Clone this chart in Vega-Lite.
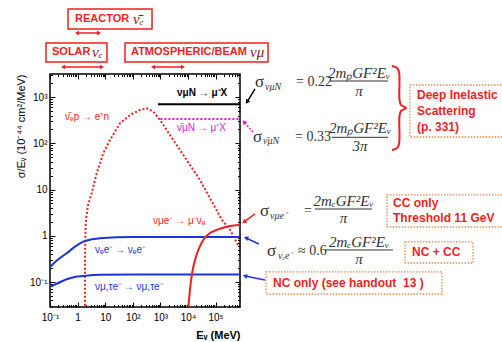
{
"$schema": "https://vega.github.io/schema/vega-lite/v6.json",
"width": 190, "height": 233,
"autosize": {"type": "none"},
"padding": {"left": 50, "top": 74, "right": 262, "bottom": 35},
"background": "white",
"config": {"view": {"stroke": "black", "strokeWidth": 1.5}, "font": "Liberation Sans"},
"datasets": {
 "nuebarp": [{"E":1.84,"s":0.025},{"E":1.85,"s":0.3},{"E":1.93,"s":1.34},{"E":2.01,"s":2.2},{"E":2.38,"s":4.63},{"E":3.24,"s":8.3},{"E":4.92,"s":22.5},{"E":8.53,"s":61},{"E":14.9,"s":118},{"E":34.4,"s":271},{"E":79.3,"s":410},{"E":182,"s":526},{"E":319,"s":573},{"E":553,"s":484},{"E":968,"s":320},{"E":2930,"s":118},{"E":8970,"s":43.7},{"E":27200,"s":16.1},{"E":68100,"s":5.94},{"E":170600,"s":2.2},{"E":333000,"s":1.34},{"E":649000,"s":0.632}],
 "numuN": [{"E":820,"s":700},{"E":765000,"s":700}],
 "numubarN": [{"E":1000,"s":335},{"E":765000,"s":335}],
 "nuee": [{"E":0.1,"s":0.211},{"E":0.2,"s":0.31},{"E":0.403,"s":0.419},{"E":0.805,"s":0.583},{"E":1.61,"s":0.745},{"E":3.24,"s":0.84},{"E":6.49,"s":0.883},{"E":26.1,"s":0.929},{"E":100,"s":0.942},{"E":765000,"s":0.942}],
 "numutau": [{"E":0.1,"s":0.08},{"E":0.2,"s":0.0953},{"E":0.403,"s":0.115},{"E":0.805,"s":0.129},{"E":1.61,"s":0.135},{"E":6.49,"s":0.144},{"E":100,"s":0.146},{"E":765000,"s":0.146}],
 "numue": [{"E":10260,"s":0.027},{"E":11140,"s":0.0482},{"E":12530,"s":0.094},{"E":14790,"s":0.182},{"E":17950,"s":0.299},{"E":23600,"s":0.493},{"E":35800,"s":0.811},{"E":54500,"s":1.077},{"E":109600,"s":1.337},{"E":252000,"s":1.574},{"E":765000,"s":1.714}],
 "lab_black": [{"E":3990,"s":1228,"t":"νμN → μ⁻X"}],
 "lab_red": [{"E":0.349,"s":371,"t":"ν̄ₑp → e⁺n"},{"E":540,"s":2.09,"t":"νμe⁻ → μ⁻νₑ"}],
 "lab_mag": [{"E":3990,"s":215,"t":"ν̄μN → μ⁺X"}],
 "lab_blue": [{"E":4.27,"s":0.493,"t":"νₑe⁻ → νₑe⁻"},{"E":4.27,"s":0.0782,"t":"νμ,τe⁻ → νμ,τe⁻"}],
 "topbox": [{"E":0.449,"E2":497,"s":80500,"s2":29700},{"E":0.0716,"E2":11.6,"s":14800,"s2":5760},{"E":52.1,"E2":7930000,"s":14800,"s2":5760}],
 "toptext": [{"E":0.805,"s":48950,"t":"REACTOR"},{"E":0.118,"s":9230,"t":"SOLAR"},{"E":86.1,"s":9230,"t":"ATMOSPHERIC/BEAM"}],
 "topnu": [{"E":102,"s":48950,"t":"ν̄ₑ"},{"E":3.33,"s":9230,"t":"νₑ"},{"E":1760000,"s":9230,"t":"νμ"}],
 "toparrow": [{"E":0.951,"E2":5.96,"s":24400},{"E":0.296,"E2":7.66,"s":4480},{"E":540,"E2":6590,"s":4480}],
 "rbox": [{"E":1.1e12,"E2":1.07e16,"s":1830,"s2":137},{"E":1.62e11,"E2":1.07e16,"s":7.64,"s2":1.55},{"E":7.28e11,"E2":2.12e14,"s":0.735,"s2":0.258},{"E":6.7e6,"E2":1.6e13,"s":0.165,"s2":0.0551}],
 "rtext": [{"E":1.98e12,"s":1111,"t":"Deep Inelastic"},{"E":1.98e12,"s":501,"t":"Scattering"},{"E":1.98e12,"s":226,"t":"(p. 331)"},{"E":2.68e11,"s":5.13,"t":"CC only"},{"E":2.68e11,"s":2.43,"t":"Threshold 11 GeV"},{"E":1.31e12,"s":0.435,"t":"NC + CC"},{"E":1.2e7,"s":0.0953,"t":"NC only (see handout\u00a0 13 )"}],
 "sig": [{"E":2.68e6,"s":2120,"t":"σ"},{"E":2.26e6,"s":140,"t":"σ"},{"E":4.06e6,"s":3.44,"t":"σ"},{"E":7.28e6,"s":0.469,"t":"σ"}],
 "sub": [{"E":6.17e6,"s":1656,"t":"νμN"},{"E":5.21e6,"s":112,"t":"ν̄μN"},{"E":9.36e6,"s":2.68,"t":"νμe⁻"},{"E":1.82e7,"s":0.366,"t":"νₑe⁻"}],
 "rel": [{"E":8.18e7,"s":2120,"t":"= 0.22"},{"E":7.53e7,"s":140,"t":"= 0.33"},{"E":1.6e8,"s":3.44,"t":"="},{"E":9.68e7,"s":0.469,"t":"≈ 0.6"}],
 "num": [{"E":1.57e10,"s":3400,"t":"2mₚGF²Eᵥ"},{"E":1.71e10,"s":215,"t":"2mₚGF²Eᵥ"},{"E":4.31e9,"s":5.66,"t":"2mₑGF²Eᵥ"},{"E":1.57e10,"s":0.735,"t":"2mₑGF²Eᵥ"}],
 "den": [{"E":1.57e10,"s":1355,"t":"π"},{"E":1.71e10,"s":87.7,"t":"3π"},{"E":4.31e9,"s":2.43,"t":"π"},{"E":1.57e10,"s":0.315,"t":"π"}],
 "fbar": [{"E":1.4e9,"E2":1.76e11,"s":2230},{"E":1.65e9,"E2":1.76e11,"s":135},{"E":3.99e8,"E2":4.64e10,"s":3.8},{"E":9.2e8,"E2":2.68e11,"s":0.493}],
 "brace": [{"i":0,"E":2.46e11,"s":4710},{"i":1,"E":3.73e11,"s":4270},{"i":2,"E":4.42e11,"s":3490},{"i":3,"E":4.6e11,"s":867},{"i":4,"E":5.21e11,"s":675},{"i":5,"E":7.92e11,"s":582},{"i":6,"E":5.21e11,"s":501},{"i":7,"E":4.6e11,"s":391},{"i":8,"E":4.42e11,"s":96.8},{"i":9,"E":3.73e11,"s":79.3},{"i":10,"E":2.46e11,"s":71.8}],
 "arr_black": [{"E":2.68e6,"s":1500,"E2":1.37e6,"s2":783}],
 "arr_mag": [{"E":2.26e6,"s":176,"E2":1.07e6,"s2":290}],
 "arr_red": [{"E":2.68e6,"s":2.97,"E2":1.07e6,"s2":1.99}],
 "arr_blue": [{"E":3.73e6,"s":0.665,"E2":1.26e6,"s2":0.897},{"E":6.17e6,"s":0.111,"E2":1.16e6,"s2":0.135}]
},
"layer": [
 {"layer": [
  {"data": {"name": "nuebarp"}, "mark": {"type": "line", "color": "#f01e1e", "strokeDash": [2,2], "strokeWidth": 2, "clip": true},
   "encoding": {
    "x": {"field": "E", "type": "quantitative", "scale": {"type": "log", "domain": [0.1, 765000], "nice": false},
     "axis": {"values": [0.1,0.2,0.3,0.4,0.5,0.6,0.7,0.8,0.9,1,2,3,4,5,6,7,8,9,10,20,30,40,50,60,70,80,90,100,200,300,400,500,600,700,800,900,1000,2000,3000,4000,5000,6000,7000,8000,9000,10000,20000,30000,40000,50000,60000,70000,80000,90000,100000,200000,300000,400000,500000,600000,700000],
      "labelExpr": "datum.value==0.1?'10⁻¹':datum.value==1?'1':datum.value==10?'10':datum.value==100?'10²':datum.value==1000?'10³':datum.value==10000?'10⁴':datum.value==100000?'10⁵':''",
      "tickSize": {"condition": {"test": "indexof([0.1,1,10,100,1000,10000,100000],datum.value)>=0", "value": -5}, "value": -2.5},
      "tickColor": "black", "domain": false, "grid": false, "labelFontSize": 10, "labelColor": "black", "labelPadding": 10, "labelOverlap": false, "labelFlush": false,
      "title": "Eᵥ (MeV)", "titleFontSize": 11, "titleFontWeight": "bold", "titleColor": "black", "titleX": 190, "titleY": 22, "titleAlign": "right", "titleBaseline": "top"}},
    "y": {"field": "s", "type": "quantitative", "scale": {"type": "log", "domain": [0.0288, 3162], "nice": false},
     "axis": {"values": [0.03,0.04,0.05,0.06,0.07,0.08,0.09,0.1,0.2,0.3,0.4,0.5,0.6,0.7,0.8,0.9,1,2,3,4,5,6,7,8,9,10,20,30,40,50,60,70,80,90,100,200,300,400,500,600,700,800,900,1000,2000,3000],
      "labelExpr": "datum.value==1000?'10³':datum.value==100?'10²':datum.value==10?'10':datum.value==1?'1':datum.value==0.1?'10⁻¹':''",
      "tickSize": {"condition": {"test": "indexof([0.1,1,10,100,1000],datum.value)>=0", "value": -5}, "value": -2.5},
      "tickColor": "black", "domain": false, "grid": false, "labelFontSize": 10, "labelColor": "black", "labelPadding": 8, "labelOverlap": false, "labelFlush": false,
      "title": "σ/Eᵥ (10⁻⁴⁴ cm²/MeV)", "titleFontSize": 11, "titleFontWeight": "normal", "titleColor": "black", "titleAngle": -90, "titleX": -29, "titleY": 0, "titleAlign": "right", "titleBaseline": "middle"}}
   }},
  {"data": {"name": "numuN"}, "mark": {"type": "line", "color": "black", "strokeWidth": 2, "clip": true},
   "encoding": {"x": {"field": "E", "type": "quantitative"}, "y": {"field": "s", "type": "quantitative"}}},
  {"data": {"name": "numubarN"}, "mark": {"type": "line", "color": "#d21ed2", "strokeDash": [2,2], "strokeWidth": 2, "clip": true},
   "encoding": {"x": {"field": "E", "type": "quantitative"}, "y": {"field": "s", "type": "quantitative"}}},
  {"data": {"name": "nuee"}, "mark": {"type": "line", "color": "#1e32dc", "strokeWidth": 2, "clip": true, "interpolate": "monotone"},
   "encoding": {"x": {"field": "E", "type": "quantitative"}, "y": {"field": "s", "type": "quantitative"}}},
  {"data": {"name": "numutau"}, "mark": {"type": "line", "color": "#1e32dc", "strokeWidth": 2, "clip": true, "interpolate": "monotone"},
   "encoding": {"x": {"field": "E", "type": "quantitative"}, "y": {"field": "s", "type": "quantitative"}}},
  {"data": {"name": "numue"}, "mark": {"type": "line", "color": "#f01e1e", "strokeWidth": 2, "clip": true, "interpolate": "monotone"},
   "encoding": {"x": {"field": "E", "type": "quantitative"}, "y": {"field": "s", "type": "quantitative"}}},
  {"data": {"name": "lab_black"}, "mark": {"type": "text", "align": "left", "baseline": "middle", "fontSize": 10, "fontWeight": "bold", "color": "black"},
   "encoding": {"x": {"field": "E", "type": "quantitative"}, "y": {"field": "s", "type": "quantitative"}, "text": {"field": "t"}}},
  {"data": {"name": "lab_red"}, "mark": {"type": "text", "align": "left", "baseline": "middle", "fontSize": 10, "color": "#f01e1e"},
   "encoding": {"x": {"field": "E", "type": "quantitative"}, "y": {"field": "s", "type": "quantitative"}, "text": {"field": "t"}}},
  {"data": {"name": "lab_mag"}, "mark": {"type": "text", "align": "left", "baseline": "middle", "fontSize": 10, "color": "#d21ed2"},
   "encoding": {"x": {"field": "E", "type": "quantitative"}, "y": {"field": "s", "type": "quantitative"}, "text": {"field": "t"}}},
  {"data": {"name": "lab_blue"}, "mark": {"type": "text", "align": "left", "baseline": "middle", "fontSize": 10, "color": "#1e32dc"},
   "encoding": {"x": {"field": "E", "type": "quantitative"}, "y": {"field": "s", "type": "quantitative"}, "text": {"field": "t"}}},
  {"data": {"name": "topbox"}, "mark": {"type": "rect", "fill": "white", "stroke": "#f01e1e", "strokeWidth": 1.5},
   "encoding": {"x": {"field": "E", "type": "quantitative"}, "x2": {"field": "E2"}, "y": {"field": "s", "type": "quantitative"}, "y2": {"field": "s2"}}},
  {"data": {"name": "toptext"}, "mark": {"type": "text", "align": "left", "baseline": "middle", "fontSize": 11, "fontWeight": "bold", "color": "#f01e1e"},
   "encoding": {"x": {"field": "E", "type": "quantitative"}, "y": {"field": "s", "type": "quantitative"}, "text": {"field": "t"}}},
  {"data": {"name": "topnu"}, "mark": {"type": "text", "align": "left", "baseline": "middle", "fontSize": 15, "font": "Liberation Serif", "fontStyle": "italic", "color": "#8a1a1a"},
   "encoding": {"x": {"field": "E", "type": "quantitative"}, "y": {"field": "s", "type": "quantitative"}, "text": {"field": "t"}}},
  {"data": {"name": "toparrow"}, "mark": {"type": "rule", "color": "#f01e1e", "strokeWidth": 1.5},
   "encoding": {"x": {"field": "E", "type": "quantitative"}, "x2": {"field": "E2"}, "y": {"field": "s", "type": "quantitative"}}},
  {"data": {"name": "toparrow"}, "mark": {"type": "point", "shape": "triangle-left", "filled": true, "color": "#f01e1e", "size": 22, "opacity": 1},
   "encoding": {"x": {"field": "E", "type": "quantitative"}, "y": {"field": "s", "type": "quantitative"}}},
  {"data": {"name": "toparrow"}, "mark": {"type": "point", "shape": "triangle-right", "filled": true, "color": "#f01e1e", "size": 22, "opacity": 1},
   "encoding": {"x": {"field": "E2", "type": "quantitative"}, "y": {"field": "s", "type": "quantitative"}}},
  {"data": {"name": "rbox"}, "mark": {"type": "rect", "fill": "white", "stroke": "#dc8c50", "strokeWidth": 1.3, "strokeDash": [1.5,1.5]},
   "encoding": {"x": {"field": "E", "type": "quantitative"}, "x2": {"field": "E2"}, "y": {"field": "s", "type": "quantitative"}, "y2": {"field": "s2"}}},
  {"data": {"name": "rtext"}, "mark": {"type": "text", "align": "left", "baseline": "middle", "fontSize": 12, "fontWeight": "bold", "color": "#f01e1e"},
   "encoding": {"x": {"field": "E", "type": "quantitative"}, "y": {"field": "s", "type": "quantitative"}, "text": {"field": "t"}}},
  {"data": {"name": "brace"}, "mark": {"type": "line", "color": "#f01e1e", "strokeWidth": 2, "interpolate": "catmull-rom"},
   "encoding": {"x": {"field": "E", "type": "quantitative"}, "y": {"field": "s", "type": "quantitative"}, "order": {"field": "i", "type": "quantitative"}}},
  {"data": {"name": "sig"}, "mark": {"type": "text", "align": "left", "baseline": "middle", "fontSize": 17, "font": "Liberation Serif", "color": "#333333"},
   "encoding": {"x": {"field": "E", "type": "quantitative"}, "y": {"field": "s", "type": "quantitative"}, "text": {"field": "t"}}},
  {"data": {"name": "sub"}, "mark": {"type": "text", "align": "left", "baseline": "middle", "fontSize": 10, "font": "Liberation Serif", "fontStyle": "italic", "color": "#333333"},
   "encoding": {"x": {"field": "E", "type": "quantitative"}, "y": {"field": "s", "type": "quantitative"}, "text": {"field": "t"}}},
  {"data": {"name": "rel"}, "mark": {"type": "text", "align": "left", "baseline": "middle", "fontSize": 14, "font": "Liberation Serif", "color": "#333333"},
   "encoding": {"x": {"field": "E", "type": "quantitative"}, "y": {"field": "s", "type": "quantitative"}, "text": {"field": "t"}}},
  {"data": {"name": "num"}, "mark": {"type": "text", "align": "center", "baseline": "middle", "fontSize": 15, "font": "Liberation Serif", "fontStyle": "italic", "color": "#333333"},
   "encoding": {"x": {"field": "E", "type": "quantitative"}, "y": {"field": "s", "type": "quantitative"}, "text": {"field": "t"}}},
  {"data": {"name": "den"}, "mark": {"type": "text", "align": "center", "baseline": "middle", "fontSize": 15, "font": "Liberation Serif", "fontStyle": "italic", "color": "#333333"},
   "encoding": {"x": {"field": "E", "type": "quantitative"}, "y": {"field": "s", "type": "quantitative"}, "text": {"field": "t"}}},
  {"data": {"name": "fbar"}, "mark": {"type": "rule", "color": "#333333", "strokeWidth": 1},
   "encoding": {"x": {"field": "E", "type": "quantitative"}, "x2": {"field": "E2"}, "y": {"field": "s", "type": "quantitative"}}},
  {"data": {"name": "arr_black"}, "mark": {"type": "rule", "color": "black", "strokeWidth": 1.5},
   "encoding": {"x": {"field": "E", "type": "quantitative"}, "x2": {"field": "E2"}, "y": {"field": "s", "type": "quantitative"}, "y2": {"field": "s2"}}},
  {"data": {"name": "arr_black"}, "mark": {"type": "point", "shape": "triangle-up", "angle": 212, "filled": true, "color": "black", "size": 25, "opacity": 1},
   "encoding": {"x": {"field": "E2", "type": "quantitative"}, "y": {"field": "s2", "type": "quantitative"}}},
  {"data": {"name": "arr_mag"}, "mark": {"type": "rule", "color": "#d21ed2", "strokeWidth": 1.5, "strokeDash": [2,1.5]},
   "encoding": {"x": {"field": "E", "type": "quantitative"}, "x2": {"field": "E2"}, "y": {"field": "s", "type": "quantitative"}, "y2": {"field": "s2"}}},
  {"data": {"name": "arr_mag"}, "mark": {"type": "point", "shape": "triangle-up", "angle": 318, "filled": true, "color": "#d21ed2", "size": 25, "opacity": 1},
   "encoding": {"x": {"field": "E2", "type": "quantitative"}, "y": {"field": "s2", "type": "quantitative"}}},
  {"data": {"name": "arr_red"}, "mark": {"type": "rule", "color": "#f01e1e", "strokeWidth": 1.5},
   "encoding": {"x": {"field": "E", "type": "quantitative"}, "x2": {"field": "E2"}, "y": {"field": "s", "type": "quantitative"}, "y2": {"field": "s2"}}},
  {"data": {"name": "arr_red"}, "mark": {"type": "point", "shape": "triangle-up", "angle": 234, "filled": true, "color": "#f01e1e", "size": 25, "opacity": 1},
   "encoding": {"x": {"field": "E2", "type": "quantitative"}, "y": {"field": "s2", "type": "quantitative"}}},
  {"data": {"name": "arr_blue"}, "mark": {"type": "rule", "color": "#1e32dc", "strokeWidth": 1.5},
   "encoding": {"x": {"field": "E", "type": "quantitative"}, "x2": {"field": "E2"}, "y": {"field": "s", "type": "quantitative"}, "y2": {"field": "s2"}}},
  {"data": {"name": "arr_blue"}, "mark": {"type": "point", "shape": "triangle-up", "angle": 288, "filled": true, "color": "#1e32dc", "size": 25, "opacity": 1},
   "encoding": {"x": {"field": "E2", "type": "quantitative"}, "y": {"field": "s2", "type": "quantitative"}}}
 ]},
 {"data": {"values": [{"E": 1, "s": 1}]}, "mark": {"type": "point", "opacity": 0},
  "encoding": {
   "x": {"field": "E", "type": "quantitative", "scale": {"type": "log", "domain": [0.1, 765000], "nice": false},
    "axis": {"orient": "top", "values": [0.1,0.2,0.3,0.4,0.5,0.6,0.7,0.8,0.9,1,2,3,4,5,6,7,8,9,10,20,30,40,50,60,70,80,90,100,200,300,400,500,600,700,800,900,1000,2000,3000,4000,5000,6000,7000,8000,9000,10000,20000,30000,40000,50000,60000,70000,80000,90000,100000,200000,300000,400000,500000,600000,700000],
     "labels": false, "title": null, "domain": false, "grid": false, "tickColor": "black",
     "tickSize": {"condition": {"test": "indexof([0.1,1,10,100,1000,10000,100000],datum.value)>=0", "value": -5}, "value": -2.5}}},
   "y": {"field": "s", "type": "quantitative", "scale": {"type": "log", "domain": [0.0288, 3162], "nice": false},
    "axis": {"orient": "right", "values": [0.03,0.04,0.05,0.06,0.07,0.08,0.09,0.1,0.2,0.3,0.4,0.5,0.6,0.7,0.8,0.9,1,2,3,4,5,6,7,8,9,10,20,30,40,50,60,70,80,90,100,200,300,400,500,600,700,800,900,1000,2000,3000],
     "labels": false, "title": null, "domain": false, "grid": false, "tickColor": "black",
     "tickSize": {"condition": {"test": "indexof([0.1,1,10,100,1000],datum.value)>=0", "value": -5}, "value": -2.5}}}
  }}
],
"resolve": {"axis": {"x": "independent", "y": "independent"}}
}
